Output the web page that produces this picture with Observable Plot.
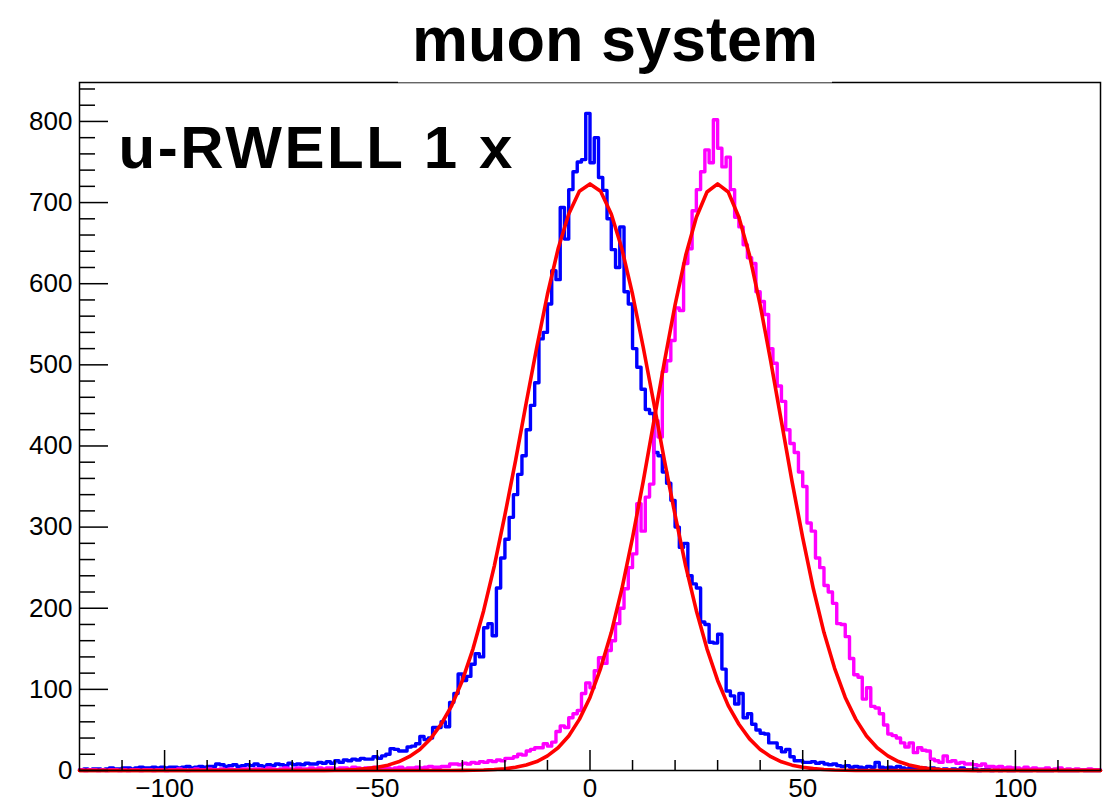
<!DOCTYPE html>
<html>
<head>
<meta charset="utf-8">
<script src="https://cdn.jsdelivr.net/npm/d3@7"></script>
<script src="https://cdn.jsdelivr.net/npm/@observablehq/plot@0.6"></script>
<style>
  body { margin: 0; background: #fff; }
  #chart { position: relative; width: 1110px; height: 802px; font-family: "Liberation Sans", Arial, Helvetica, sans-serif; }
  #title {
    position: absolute; left: 398px; top: 0; width: 434px; height: 83px;
    box-sizing: border-box; padding-top: 4px;
    background: #fff; border-bottom: 1px solid #666;
    text-align: center; font-weight: bold; font-size: 63px; line-height: 70px; color: #000;
  }
  .panel-label text { letter-spacing: 2.6px; }
</style>
</head>
<body>
<div id="chart"><div id="title">muon system</div></div>
<script>
// Histogram binning: 240 bins of width 1 from -120 to 120 (left edges)
const binLow = -120;
const binWidth = 1;

// Blue histogram counts, one per bin, starting at the bin [-120, -119]
const blueCounts = [
  1, 2, 1, 2, 2, 1, 2, 3, 2, 2,            // -120
  3, 3, 2, 3, 4, 3, 3, 4, 3, 4,            // -110
  3, 4, 4, 3, 4, 5, 3, 4, 5, 4,            // -100
  5, 5, 8, 7, 5, 6, 7, 5, 6, 7,            // -90
  6, 8, 6, 5, 7, 6, 8, 7, 6, 9,            // -80
  7, 8, 7, 9, 8, 8, 10, 9, 11, 9,          // -70
  12, 10, 13, 12, 14, 13, 15, 14, 14, 17,  // -60
  15, 18, 20, 27, 26, 24, 24, 29, 30, 33,  // -50
  42, 38, 40, 53, 53, 60, 54, 84, 95, 119, // -40
  111, 116, 131, 144, 140, 176, 181, 166, 225, 262, // -30
  285, 312, 340, 365, 388, 420, 450, 478, 532, 540, // -20
  575, 616, 605, 694, 655, 716, 738, 750, 753, 810, // -10
  749, 780, 731, 715, 680, 642, 620, 670, 590, 575, // 0
  520, 497, 470, 445, 440, 392, 388, 368, 354, 333, // 10
  300, 275, 280, 240, 230, 225, 183, 180, 158, 157, // 20
  168, 125, 98, 92, 82, 95, 65, 70, 57, 50,         // 30
  46, 45, 34, 34, 28, 23, 26, 17, 12, 12,  // 40
  10, 10, 11, 9, 10, 8, 7, 8, 6, 5,        // 50
  6, 4, 5, 4, 3, 5, 4, 10, 4, 3,           // 60
  4, 3, 5, 3, 2, 4, 3, 2, 3, 2,            // 70
  3, 2, 1, 2, 1, 2, 1, 3, 1, 1,            // 80
  2, 0, 1, 1, 0, 1, 0, 1, 0, 0,            // 90
  1, 0, 0, 0, 1, 0, 0, 0, 0, 1,            // 100
  0, 0, 0, 0, 0, 1, 0, 0, 0, 0             // 110
];

// Magenta histogram counts, same binning
const magentaCounts = [
  1, 0, 1, 1, 0, 1, 0, 1, 1, 0,            // -120
  1, 0, 1, 1, 0, 1, 1, 0, 1, 1,            // -110
  0, 1, 1, 2, 1, 0, 1, 2, 1, 1,            // -100
  2, 1, 1, 2, 1, 2, 1, 1, 2, 2,            // -90
  1, 2, 2, 1, 3, 2, 1, 2, 3, 2,            // -80
  2, 3, 2, 2, 3, 2, 3, 2, 3, 3,            // -70
  2, 3, 3, 2, 4, 3, 2, 3, 3, 4,            // -60
  2, 3, 3, 2, 3, 4, 2, 3, 3, 4,            // -50
  3, 4, 5, 4, 4, 5, 5, 8, 8, 7,            // -40
  9, 8, 10, 9, 11, 10, 12, 11, 13, 12,     // -30
  15, 15, 17, 20, 19, 24, 26, 28, 28, 33,  // -20
  30, 35, 48, 55, 53, 65, 70, 74, 95, 108, // -10
  102, 123, 139, 132, 148, 160, 181, 200, 224, 250, // 0
  267, 329, 295, 337, 353, 431, 411, 492, 505, 530, // 10
  570, 567, 625, 643, 690, 716, 738, 765, 749, 802, // 20
  767, 744, 756, 716, 682, 670, 648, 632, 625, 590, // 30
  578, 562, 520, 502, 474, 455, 420, 403, 392, 368, // 40
  350, 305, 295, 262, 250, 228, 220, 206, 181, 180, // 50
  165, 138, 118, 115, 88, 102, 79, 77, 70, 56,      // 60
  45, 43, 40, 34, 29, 34, 22, 28, 25, 24,  // 70
  14, 12, 10, 18, 11, 12, 9, 10, 8, 8,     // 80
  7, 6, 8, 5, 5, 4, 5, 3, 4, 3,            // 90
  3, 2, 4, 2, 3, 2, 2, 3, 1, 2,            // 100
  3, 1, 2, 1, 2, 1, 1, 2, 1, 1             // 110
];

// Gaussian fit curves, sampled every 2.5 from -120 to 120
const fitStep = 2.5;
const blueFit = [
  0, 0, 0, 0, 0, 0, 0, 0, 0, 0, 0, 0, 0, 0, 0, 0, 0, 0, 0, 0, 0, 0, 0, 0,   // -120 … -62.5
  0.4, 0.7, 1.3, 2.3, 4, 6.6, 10.7, 17, 26, 39, 57, 80, 111, 150, 197, 252,
  315, 382, 453, 522, 587, 643, 686, 714,                                   // -60 … -2.5
  723,                                                                      // 0
  714, 686, 643, 587, 522, 453, 382, 315, 252, 197, 150, 111, 80, 57, 39, 26,
  17, 10.7, 6.6, 4, 2.3, 1.3, 0.7, 0.4,                                     // 2.5 … 60
  0, 0, 0, 0, 0, 0, 0, 0, 0, 0, 0, 0, 0, 0, 0, 0, 0, 0, 0, 0, 0, 0, 0, 0    // 62.5 … 120
];
const magentaFit = [
  0, 0, 0, 0, 0, 0, 0, 0, 0, 0, 0, 0, 0, 0, 0, 0, 0, 0,
  0, 0, 0, 0, 0, 0, 0, 0, 0, 0, 0, 0, 0, 0, 0, 0, 0, 0,                     // -120 … -32.5
  0.1, 0.3, 0.6, 1.2, 2.2, 3.9, 6.7, 11, 18, 28, 42.5, 63, 90, 126, 170, 224,
  287, 356, 430, 504, 574, 635, 682, 713,                                   // -30 … 27.5
  723,                                                                      // 30
  713, 682, 635, 574, 504, 430, 356, 287, 224, 170, 126, 90, 63, 42.5, 28, 18,
  11, 6.7, 3.9, 2.2, 1.2, 0.6, 0.3, 0.1,                                    // 32.5 … 90
  0, 0, 0, 0, 0, 0, 0, 0, 0, 0, 0, 0                                        // 92.5 … 120
];

// Axis ticks
const xMajor = [-100, -50, 0, 50, 100];
const xMinor = [-110, -90, -80, -70, -60, -40, -30, -20, -10, 10, 20, 30, 40, 60, 70, 80, 90, 110];
const yMajor = [0, 100, 200, 300, 400, 500, 600, 700, 800];
const yMinor = [20, 40, 60, 80, 120, 140, 160, 180, 220, 240, 260, 280, 320, 340, 360, 380,
                420, 440, 460, 480, 520, 540, 560, 580, 620, 640, 660, 680, 720, 740, 760, 780, 820, 840];

const panelLabel = "u-RWELL 1 x";

// Step outline rows: one row per left edge, plus the closing right edge
function stepRows(counts) {
  const rows = counts.map((c, i) => ({edge: binLow + i * binWidth, count: c}));
  rows.push({edge: binLow + counts.length * binWidth, count: counts[counts.length - 1]});
  return rows;
}
const blueRows = stepRows(blueCounts);
const magentaRows = stepRows(magentaCounts);
const fitRows = blueFit.map((b, i) => ({x: binLow + i * fitStep, blue: b, magenta: magentaFit[i]}));

const minus = d => (d < 0 ? "\u2212" + Math.abs(d) : String(d));
const font = '"Liberation Sans", Arial, Helvetica, sans-serif';

const chart = Plot.plot({
  width: 1110,
  height: 802,
  marginLeft: 79,
  marginRight: 10,
  marginTop: 82,
  marginBottom: 32,
  x: {domain: [-120, 120], label: null},
  y: {domain: [0, 848], label: null},
  style: {fontFamily: font, fontSize: "26px", color: "#000", background: "#fff"},
  marks: [
    Plot.lineY(blueRows, {x: "edge", y: "count", curve: "step-after", stroke: "#0000ff", strokeWidth: 3.4}),
    Plot.lineY(magentaRows, {x: "edge", y: "count", curve: "step-after", stroke: "#ff00ff", strokeWidth: 3.4}),
    Plot.line(fitRows, {x: "x", y: "blue", stroke: "#ff0000", strokeWidth: 3.6}),
    Plot.line(fitRows, {x: "x", y: "magenta", stroke: "#ff0000", strokeWidth: 3.6}),
    Plot.frame({stroke: "#000", strokeWidth: 1.5}),
    Plot.axisX({ticks: xMajor, tickSize: -20, text: null, label: null, strokeWidth: 1.5}),
    Plot.axisX({ticks: xMinor, tickSize: -10, text: null, label: null, strokeWidth: 1.5}),
    Plot.axisX({ticks: xMajor, tickSize: 0, tickPadding: 8.5, tickFormat: minus, label: null, fontSize: 26}),
    Plot.axisY({ticks: yMajor, tickSize: -29, text: null, label: null, strokeWidth: 1.5}),
    Plot.axisY({ticks: yMinor, tickSize: -16, text: null, label: null, strokeWidth: 1.5}),
    Plot.axisY({ticks: yMajor, tickSize: 0, tickPadding: 7, label: null, fontSize: 26}),
    Plot.text([panelLabel], {
      text: d => d, frameAnchor: "top-left", textAnchor: "start", lineAnchor: "bottom",
      dx: 39, dy: 85, fontSize: 60, fontWeight: "bold", fill: "#000", className: "panel-label"
    })
  ]
});

document.getElementById("chart").prepend(chart);
</script>
</body>
</html>
